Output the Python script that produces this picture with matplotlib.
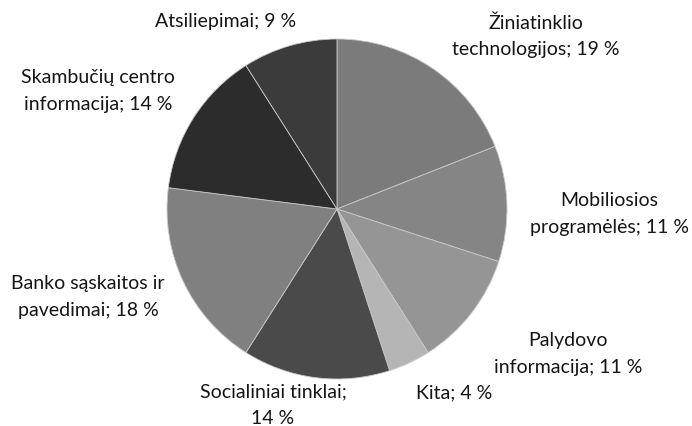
import matplotlib
matplotlib.use("Agg")
import matplotlib.pyplot as plt

categories = ["Žiniatinklio\ntechnologijos", "Mobiliosios\nprogramėlės", "Palydovo\ninformacija",
              "Kita", "Socialiniai tinklai;\n", "Banko sąskaitos ir\npavedimai",
              "Skambučių centro\ninformacija", "Atsiliepimai"]
values = [19, 11, 11, 4, 14, 18, 14, 9]
colors = ["#7b7b7b", "#858585", "#959595", "#b5b5b5", "#4a4a4a", "#808080", "#2c2c2c", "#3b3b3b"]

# label positions in pixel coordinates (x, y from top)
label_pos = [(536, 36), (609, 214), (568, 354), (454, 393), (273, 405), (88, 297), (98, 91), (226, 22)]

W, H = 692, 426
fig = plt.figure(figsize=(W / 100, H / 100), dpi=100)
ax = fig.add_axes([0, 0, 1, 1])

ax.pie(values, colors=colors, startangle=90, counterclock=False,
       center=(337, H - 209), radius=170, frame=True,
       wedgeprops=dict(edgecolor="#c8c8c8", linewidth=0.6))
ax.set_xlim(0, W)
ax.set_ylim(0, H)
ax.set_aspect("equal")
ax.axis("off")

for cat, val, (x, y) in zip(categories, values, label_pos):
    if cat == "Socialiniai tinklai;\n":
        txt = f"Socialiniai tinklai;\n{val} %"
    elif "\n" in cat:
        first, second = cat.split("\n")
        txt = f"{first}\n{second}; {val} %"
    else:
        txt = f"{cat}; {val} %"
    ax.text(x, H - y, txt, ha="center", va="center", fontsize=14,
            family="Lato", color="#151515", linespacing=1.65)

fig.savefig("out.png", dpi=100)
